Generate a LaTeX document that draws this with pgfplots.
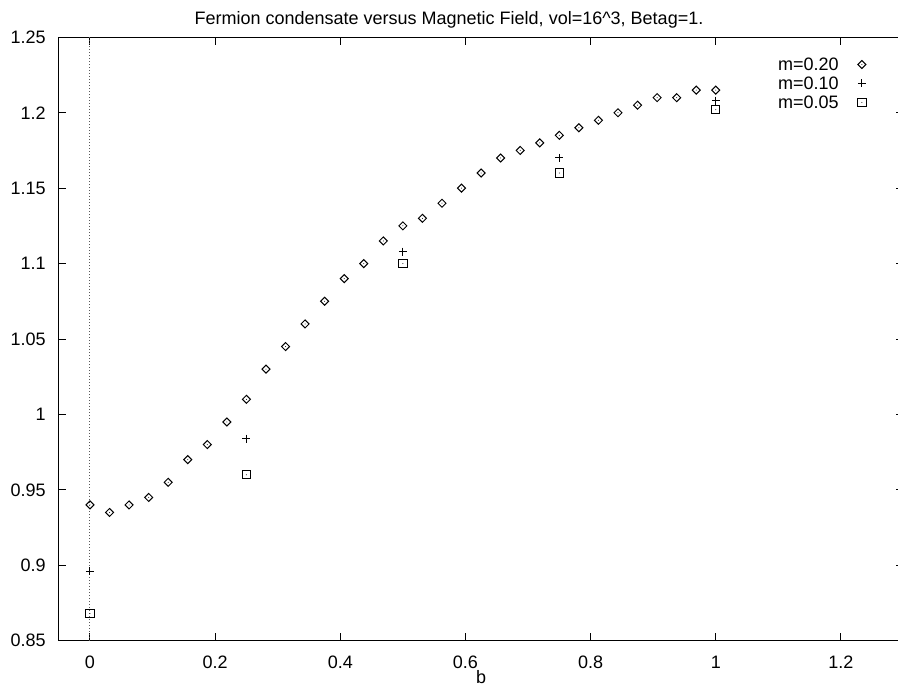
\documentclass[border=0pt]{standalone}
\usepackage{fontspec}
\setmainfont{Liberation Sans}
\usepackage{pgfplots}
\pgfplotsset{compat=1.18}

\newcommand\gpf{\fontsize{9}{11}\selectfont}

% gnuplot-like marks: outline with a tiny dot in the middle
\pgfdeclareplotmark{gpdiamond}{%
  \pgfpathmoveto{\pgfqpoint{\pgfplotmarksize}{0pt}}%
  \pgfpathlineto{\pgfqpoint{0pt}{\pgfplotmarksize}}%
  \pgfpathlineto{\pgfqpoint{-\pgfplotmarksize}{0pt}}%
  \pgfpathlineto{\pgfqpoint{0pt}{-\pgfplotmarksize}}%
  \pgfpathclose\pgfusepathqstroke
  \pgfpathcircle{\pgfpointorigin}{0.25pt}\pgfusepathqfill}
\pgfdeclareplotmark{gpsquare}{%
  \pgfpathrectangle{\pgfqpoint{-\pgfplotmarksize}{-\pgfplotmarksize}}%
    {\pgfqpoint{2\pgfplotmarksize}{2\pgfplotmarksize}}%
  \pgfusepathqstroke
  \pgfpathcircle{\pgfpointorigin}{0.25pt}\pgfusepathqfill}

\begin{document}
\begin{tikzpicture}
\begin{axis}[
    scale only axis,
    width=422.4pt, height=301.7pt,
    xmin=-0.05, xmax=1.3,
    ymin=0.85, ymax=1.25,
    xtick={0,0.2,0.4,0.6,0.8,1,1.2},
    ytick={0.85,0.9,0.95,1,1.05,1.1,1.15,1.2,1.25},
    /pgf/number format/assume math mode=true,
    tick align=inside,
    major tick length=3.8pt,
    axis line style={black, line width=0.55pt},
    tick style={black, line width=0.5pt},
    tick label style={font=\gpf},
    yticklabel style={xshift=-3pt},
    xticklabel style={yshift=-4pt},
    title={Fermion condensate versus Magnetic Field, vol=16\textasciicircum3, Betag=1.},
    title style={font=\gpf, at={(rel axis cs:0.462,1)}, anchor=base, yshift=0.15pt},
    xlabel={b},
    xlabel style={font=\gpf, at={(rel axis cs:0.5,0)}, anchor=base, yshift=-21.2pt},
    legend plot pos=right,
    legend cell align=right,
    legend image post style={yshift=1.5pt},
    legend style={draw=none, fill=none, inner sep=0pt, outer sep=0pt,
        font=\gpf, at={(0.9556,0.9657)}, anchor=north east,
        row sep=0pt, column sep=9.5pt,
        nodes={inner sep=0pt, text height=6.5pt, text depth=3pt}},
]
\coordinate (sw) at (rel axis cs:0,0);

\addplot[black!65, dash pattern=on 0.5pt off 1pt, line width=0.5pt, forget plot]
  coordinates {(0,0.85) (0,1.25)};

% m=0.20
\addplot[only marks, mark=gpdiamond, mark size=2pt, mark options={line width=0.5pt, black}]
coordinates {
(0,0.94) (0.03125,0.935) (0.0625,0.94) (0.09375,0.945) (0.125,0.955)
(0.15625,0.97) (0.1875,0.98) (0.21875,0.995) (0.25,1.01) (0.28125,1.03)
(0.3125,1.045) (0.34375,1.06) (0.375,1.075) (0.40625,1.09) (0.4375,1.10)
(0.46875,1.115) (0.5,1.125) (0.53125,1.13) (0.5625,1.14) (0.59375,1.15)
(0.625,1.16) (0.65625,1.17) (0.6875,1.175) (0.71875,1.18) (0.75,1.185)
(0.78125,1.19) (0.8125,1.195) (0.84375,1.20) (0.875,1.205) (0.90625,1.21)
(0.9375,1.21) (0.96875,1.215) (1,1.215)
};
\addlegendentry{m=0.20}

% m=0.10
\addplot[only marks, mark=+, mark size=2pt, mark options={line width=0.5pt, black}]
coordinates {(0,0.896) (0.25,0.984) (0.5,1.108) (0.75,1.17) (1,1.208)};
\addlegendentry{m=0.10}

% m=0.05
\addplot[only marks, mark=gpsquare, mark size=2.1pt, mark options={line width=0.5pt, black}]
coordinates {(0,0.868) (0.25,0.96) (0.5,1.10) (0.75,1.16) (1,1.202)};
\addlegendentry{m=0.05}
\end{axis}
\pgfresetboundingbox
\path[use as bounding box] (sw) ++(-29.35pt,-22.15pt) rectangle ++(449pt,342.5pt);
\end{tikzpicture}
\end{document}
